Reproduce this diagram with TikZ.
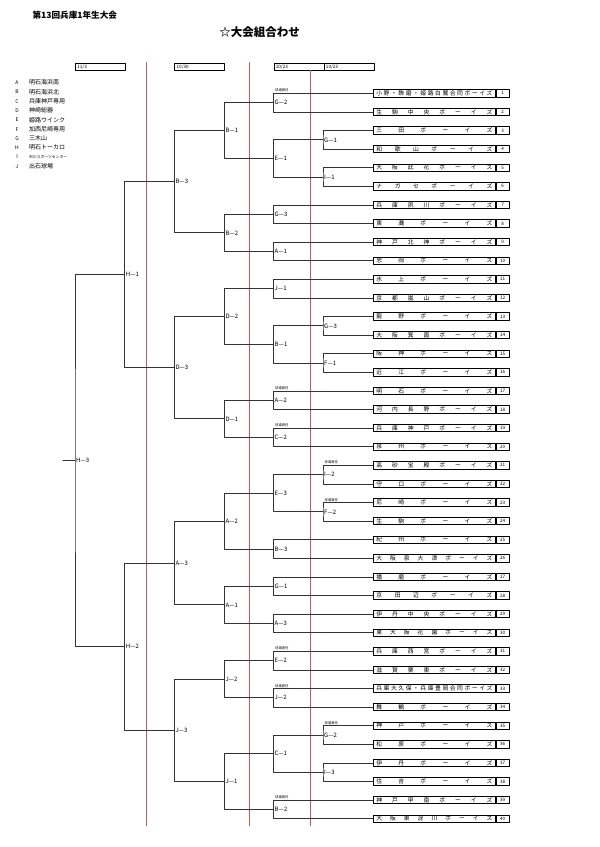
\documentclass[tikz,border=0pt]{standalone}
\usepackage{fontspec}
\setmainfont{Noto Sans CJK JP}
\usepackage{tikz}

\definecolor{rulered}{RGB}{176,98,90}
% row k of the team list
\newcommand{\rowy}[1]{74.7+18.6*#1}

\begin{document}
\begin{tikzpicture}[x=1pt,y=-1pt,line cap=round,line join=round,
  bracket/.style={line width=0.7pt,black!80},
  team/.style={draw,line width=0.8pt,anchor=west,minimum width=122pt,minimum height=7.4pt,inner sep=0pt,font=\fontsize{5.8}{6}\selectfont},
  teamno/.style={draw,line width=0.8pt,anchor=west,minimum width=13pt,minimum height=7.4pt,inner sep=0pt,font=\fontsize{4.6}{5}\selectfont},
  lbl/.style={anchor=west,inner sep=1pt,font=\fontsize{6}{6}\selectfont},
  duty/.style={anchor=south west,inner sep=0.3pt,font=\fontsize{3.3}{3.5}\selectfont},
  datebox/.style={draw,line width=0.7pt,anchor=west,text width=46pt,minimum height=7pt,inner xsep=2pt,inner ysep=0pt,font=\fontsize{4.6}{5}\selectfont}]
\fill [white] (0,0) rectangle (600,847);
\useasboundingbox (0,0) rectangle (600,847);

% headings
\node [anchor=west,font=\fontsize{8.6}{9}\selectfont\bfseries] (title) at (29,15) {第13回兵庫1年生大会};
\node [font=\fontsize{11.5}{12}\selectfont\bfseries] (head) at (259.5,32) {☆大会組合わせ};

% grounds
\foreach \c/\n [count=\i] in {A/明石海浜南,B/明石海浜北,C/兵庫神戸専用,D/神崎総器,E/姫路ウインク,F/加西尼崎専用,G/三木山,H/明石トーカロ,I/{\fontsize{3.8}{4}\selectfont 市川スポーツセンター},J/出石球場}{
  \node [font=\fontsize{5}{5}\selectfont] (key\c) at (17,{73.4+9.3*\i}) {\c};
  \node [anchor=west,inner sep=0pt,font=\fontsize{6}{6}\selectfont] (site\c) at (29,{73.4+9.3*\i}) {\n};
}

% dates
\node [datebox] (d1) at (75,66.8) {11/3};
\node [datebox] (d2) at (174.3,66.8) {10/30};
\node [datebox] (d3) at (273.5,66.8) {10/23};
\node [datebox] (d4) at (323.6,66.8) {10/23};

% day rules
\draw [rulered,line width=0.6pt] (146,62.5) -- (146,826);
\draw [rulered,line width=0.6pt] (249.6,62.5) -- (249.6,826);
\draw [rulered,line width=0.6pt] (309.8,70.3) -- (309.8,826);

% teams
\foreach \nm [count=\i] in {小 野 ・ 飾 磨 ・ 姫 路 白 鷺 合 同 ボ ー イ ズ,生 駒 中 央 ボ ー イ ズ,三 田 ボ ー イ ズ,和 歌 山 ボ ー イ ズ,大 阪 此 花 ボ ー イ ズ,ナ ガ セ ボ ー イ ズ,兵 庫 夙 川 ボ ー イ ズ,東 灘 ボ ー イ ズ,神 戸 北 神 ボ ー イ ズ,忠 岡 ボ ー イ ズ,氷 上 ボ ー イ ズ,京 都 嵐 山 ボ ー イ ズ,龍 野 ボ ー イ ズ,大 阪 箕 面 ボ ー イ ズ,阪 神 ボ ー イ ズ,近 江 ボ ー イ ズ,明 石 ボ ー イ ズ,河 内 長 野 ボ ー イ ズ,兵 庫 神 戸 ボ ー イ ズ,泉 州 ボ ー イ ズ,高 砂 宝 殿 ボ ー イ ズ,守 口 ボ ー イ ズ,尼 崎 ボ ー イ ズ,生 駒 ボ ー イ ズ,紀 州 ボ ー イ ズ,大 阪 泉 大 津 ボ ー イ ズ,播 磨 ボ ー イ ズ,京 田 辺 ボ ー イ ズ,伊 丹 中 央 ボ ー イ ズ,東 大 阪 花 園 ボ ー イ ズ,兵 庫 西 宮 ボ ー イ ズ,滋 賀 栗 東 ボ ー イ ズ,兵 庫 大 久 保 ・ 兵 庫 豊 岡 合 同 ボ ー イ ズ,舞 鶴 ボ ー イ ズ,神 戸 ボ ー イ ズ,松 原 ボ ー イ ズ,伊 丹 ボ ー イ ズ,住 吉 ボ ー イ ズ,神 戸 甲 南 ボ ー イ ズ,大 阪 東 淀 川 ボ ー イ ズ}{
  \node [team] (t\i) at (373,{\rowy{\i}}) {\makebox[116pt][s]{\nm}};
  \node [teamno] (n\i) at (t\i.east) {\i};
}

% matches
\foreach \m/\x/\k/\lab in {mG2u/273.5/1.5/G—2,mG1u/323/3.5/G—1,mIa/323/5.5/I—1,mEa/273.5/4.5/E—1,mB1u/224.3/3/B—1,
  mG3u/273.5/7.5/G—3,mA1u/273.5/9.5/A—1,mB2u/224.3/8.5/B—2,mB3u/174.3/5.75/B—3,
  mJ1u/273.5/11.5/J—1,mG3l/323/13.5/G—3,mFa/323/15.5/F—1,mB1l/273.5/14.5/B—1,mDb/224.3/13/D—2,
  mA2u/273.5/17.5/A—2,mCb/273.5/19.5/C—2,mDa/224.3/18.5/D—1,mDc/174.3/15.75/D—3,mHa/124.7/10.75/H—1,
  mIb/323/21.5/I—2,mFb/323/23.5/F—2,mEc/273.5/22.5/E—3,mB3l/273.5/25.5/B—3,mA2l/224.3/24/A—2,
  mG1l/273.5/27.5/G—1,mA3l/273.5/29.5/A—3,mA1l/224.3/28.5/A—1,mA3u/174.3/26.25/A—3,
  mEb/273.5/31.5/E—2,mJ2u/273.5/33.5/J—2,mJ2l/224.3/32.5/J—2,
  mG2l/323/35.5/G—2,mIc/323/37.5/I—3,mCa/273.5/36.5/C—1,mB2l/273.5/39.5/B—2,mJ1l/224.3/38/J—1,
  mJc/174.3/35.25/J—3,mHb/124.7/30.75/H—2,mHc/75/20.75/H—3}
  \path (\x,{\rowy{\k}}) coordinate (\m) node [lbl] (l\m) {\lab};

% connectors
\foreach \p/\a/\b in {mG2u/t1/t2,mG1u/t3/t4,mIa/t5/t6,mEa/mG1u/mIa,mB1u/mG2u/mEa,
  mG3u/t7/t8,mA1u/t9/t10,mB2u/mG3u/mA1u,mB3u/mB1u/mB2u,
  mJ1u/t11/t12,mG3l/t13/t14,mFa/t15/t16,mB1l/mG3l/mFa,mDb/mJ1u/mB1l,
  mA2u/t17/t18,mCb/t19/t20,mDa/mA2u/mCb,mDc/mDb/mDa,mHa/mB3u/mDc,
  mIb/t21/t22,mFb/t23/t24,mEc/mIb/mFb,mB3l/t25/t26,mA2l/mEc/mB3l,
  mG1l/t27/t28,mA3l/t29/t30,mA1l/mG1l/mA3l,mA3u/mA2l/mA1l,
  mEb/t31/t32,mJ2u/t33/t34,mJ2l/mEb/mJ2u,
  mG2l/t35/t36,mIc/t37/t38,mCa/mG2l/mIc,mB2l/t39/t40,mJ1l/mCa/mB2l,
  mJc/mJ2l/mJ1l,mHb/mA3u/mJc,mHc/mHa/mHb}
  \draw [bracket] (\a) -| (\p) |- (\b);

\coordinate (fin) at (62.7,{\rowy{20.75}});
\draw [bracket] (fin) -- (mHc);

% ground duty marks
\foreach \x/\k in {273.5/1,273.5/17,273.5/19,323/21,323/23,273.5/31,273.5/33,323/35,273.5/39}
  \node [duty] (duty\k) at (\x+1.2,{\rowy{\k}-0.6}) {球場責任};
\end{tikzpicture}
\end{document}
